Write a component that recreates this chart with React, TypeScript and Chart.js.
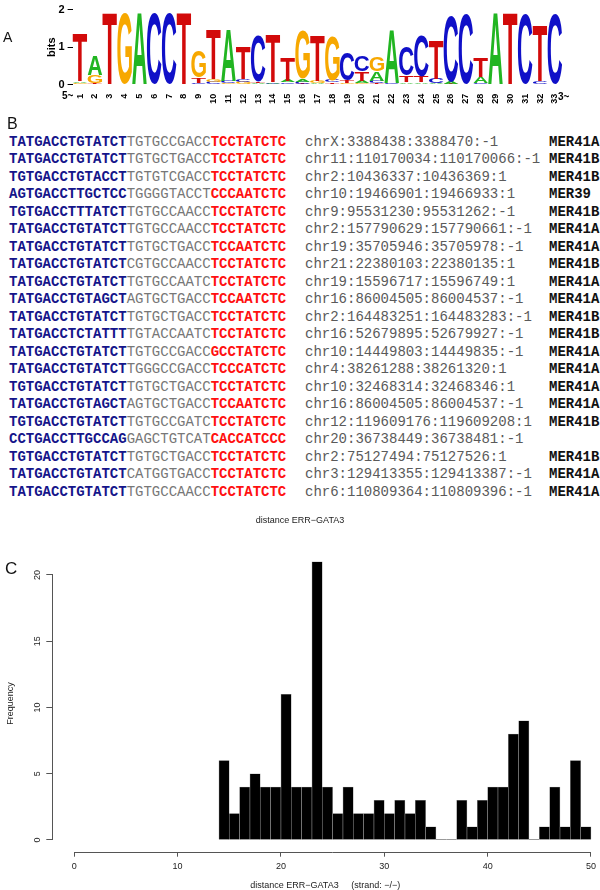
import React, { useEffect, useRef } from 'react';
import { Chart, registerables } from 'chart.js';
Chart.register(...registerables);

// ---------- Panel A: sequence logo data (bits per base at each position) ----------
const LOGO_POSITIONS = ['1','2','3','4','5','6','7','8','9','10','11','12','13','14','15','16','17','18','19','20','21','22','23','24','25','26','27','28','29','30','31','32','33'];
const BITS_A = [0.04,0.52,0,0,1.92,0,0,0,0.02,0.02,1.37,0.02,0.03,0.04,0.05,0.07,0.04,0.02,0.01,0.06,0.25,1.42,0.04,0.04,0.03,0.05,0,0.17,1.92,0,0,0,0];
const BITS_C = [0.02,0.02,0,0,0,1.9,1.9,0,0.03,0.05,0.05,0.08,1.22,0.03,0.04,0.05,0,0.06,0.73,0.42,0.06,0.03,0.78,1.08,0.12,1.76,1.88,0.03,0,0,1.88,0.07,1.88];
const BITS_G = [0.03,0.22,0,1.9,0,0,0,0,0.7,0.08,0.03,0.05,0.01,0,0.02,1.28,0.06,1.18,0.03,0.04,0.38,0,0.02,0.02,0.01,0,0,0.01,0,0,0,0.02,0];
const BITS_T = [1.27,0.02,1.92,0,0,0,0,1.93,0.14,1.32,0.02,0.87,0.04,1.29,0.62,0.03,1.2,0.04,0.08,0.25,0.04,0.02,0.18,0.16,1.02,0.03,0,0.52,0,1.92,0,1.5,0];
const LOGO_Y_TICKS = [0, 1, 2];
const LETTER_COLORS: Record<string, string> = { A: '#21b521', C: '#1010c8', G: '#f7a800', T: '#d20a0a' };

// ---------- Panel B: aligned sites ----------
const SEQ_LEFT = ['TATGACCTGTATCT','TATGACCTGTATCT','TGTGACCTGTACCT','AGTGACCTTGCTCC','TGTGACCTTTATCT','TATGACCTGTATCT','TATGACCTGTATCT','TATGACCTGTATCT','TATGACCTGTATCT','TATGACCTGTAGCT','TATGACCTGTATCT','TATGACCTCTATTT','TATGACCTGTATCT','TATGACCTGTATCT','TGTGACCTGTATCT','TATGACCTGTAGCT','TGTGACCTGTATCT','CCTGACCTTGCCAG','TGTGACCTGTATCT','TATGACCTGTATCT','TATGACCTGTATCT'];
const SEQ_MID = ['TGTGCCGACC','TGTGCTGACC','TGTGTCGACC','TGGGGTACCT','TGTGCCAACC','TGTGCCAACC','TGTGCTGACC','CGTGCCAACC','TGTGCCAATC','AGTGCTGACC','TGTGCTGACC','TGTACCAATC','TGTGCCGACC','TGGGCCGACC','TGTGCTGACC','AGTGCTGACC','TGTGCCGATC','GAGCTGTCAT','TGTGCTGACC','CATGGTGACC','TGTGCCAACC'];
const SEQ_RIGHT = ['TCCTATCTC','TCCTATCTC','TCCTATCTC','CCCAATCTC','TCCTATCTC','TCCTATCTC','TCCAATCTC','TCCTATCTC','TCCTATCTC','TCCAATCTC','TCCTATCTC','TCCTATCTC','GCCTATCTC','TCCCATCTC','TCCTATCTC','TCCAATCTC','TCCTATCTC','CACCATCCC','TCCTATCTC','TCCTATCTC','TCCTATCTC'];
const LOCI = ['chrX:3388438:3388470:-1','chr11:110170034:110170066:-1','chr2:10436337:10436369:1','chr10:19466901:19466933:1','chr9:95531230:95531262:-1','chr2:157790629:157790661:-1','chr19:35705946:35705978:-1','chr21:22380103:22380135:1','chr19:15596717:15596749:1','chr16:86004505:86004537:-1','chr2:164483251:164483283:-1','chr16:52679895:52679927:-1','chr10:14449803:14449835:-1','chr4:38261288:38261320:1','chr10:32468314:32468346:1','chr16:86004505:86004537:-1','chr12:119609176:119609208:1','chr20:36738449:36738481:-1','chr2:75127494:75127526:1','chr3:129413355:129413387:-1','chr6:110809364:110809396:-1'];
const FAMILIES = ['MER41A','MER41B','MER41B','MER39','MER41B','MER41A','MER41A','MER41B','MER41A','MER41A','MER41B','MER41B','MER41A','MER41A','MER41A','MER41A','MER41B','','MER41B','MER41A','MER41A'];

// ---------- Panel C: histogram ----------
const BIN_STARTS = [14,15,16,17,18,19,20,21,22,23,24,25,26,27,28,29,30,31,32,33,34,35,36,37,38,39,40,41,42,43,44,45,46,47,48,49];
const FREQ = [6,2,4,5,4,4,11,4,4,21,4,2,4,2,2,3,2,3,2,3,1,0,0,3,1,3,4,4,8,9,0,1,4,1,6,1];
const X_TICKS = [0, 10, 20, 30, 40, 50];
const Y_TICKS = [0, 5, 10, 15, 20];

const R_FONT = '"Liberation Sans", Arial, sans-serif';
const MONO = '"Liberation Mono", "Courier New", monospace';

const logoLetterPlugin = {
  id: 'logoLetters',
  afterDatasetsDraw(chart: any) {
    const ctx = chart.ctx;
    ctx.save();
    ctx.font = 'bold 100px "Liberation Sans", Arial, sans-serif';
    ctx.textAlign = 'left';
    ctx.textBaseline = 'alphabetic';
    chart.data.datasets.forEach((ds: any, di: number) => {
      const meta = chart.getDatasetMeta(di);
      meta.data.forEach((el: any, i: number) => {
        const letter = ds.letters[i];
        const p = el.getProps(['x', 'y', 'base', 'width'], true);
        const top = Math.min(p.y, p.base);
        const h = Math.abs(p.base - p.y);
        if (h < 0.4) return;
        const m = ctx.measureText(letter);
        const gw = m.actualBoundingBoxLeft + m.actualBoundingBoxRight;
        const gh = m.actualBoundingBoxAscent + m.actualBoundingBoxDescent;
        ctx.save();
        ctx.translate(p.x - p.width / 2, top);
        ctx.scale(p.width / gw, h / gh);
        ctx.fillStyle = LETTER_COLORS[letter];
        ctx.fillText(letter, m.actualBoundingBoxLeft, m.actualBoundingBoxAscent);
        ctx.restore();
      });
    });
    ctx.restore();
  },
};

const rAxesPlugin = {
  id: 'rAxes',
  afterDraw(chart: any) {
    const { ctx, chartArea } = chart;
    const xs = chart.scales.x;
    const ys = chart.scales.y;
    ctx.save();
    ctx.strokeStyle = '#555';
    ctx.lineWidth = 1;
    ctx.beginPath();
    const yb = Math.round(chartArea.bottom) + 0.5;
    ctx.moveTo(xs.getPixelForValue(X_TICKS[0]), yb);
    ctx.lineTo(xs.getPixelForValue(X_TICKS[X_TICKS.length - 1]), yb);
    const xl = Math.round(chartArea.left) - 0.5;
    ctx.moveTo(xl, ys.getPixelForValue(Y_TICKS[0]));
    ctx.lineTo(xl, ys.getPixelForValue(Y_TICKS[Y_TICKS.length - 1]));
    ctx.stroke();
    // empty bins drawn as flat outline at zero (as R's hist does)
    ctx.strokeStyle = '#9a9a9a';
    ctx.beginPath();
    const y0 = Math.round(ys.getPixelForValue(0)) - 0.5;
    BIN_STARTS.forEach((b, i) => {
      if (FREQ[i] === 0) {
        ctx.moveTo(xs.getPixelForValue(b), y0);
        ctx.lineTo(xs.getPixelForValue(b + 1), y0);
      }
    });
    ctx.stroke();
    ctx.restore();
  },
};

function buildLogoLayers() {
  const layers: { values: number[]; letters: string[] }[] = [0, 1, 2, 3].map(() => ({ values: [], letters: [] }));
  LOGO_POSITIONS.forEach((_, i) => {
    const col = [
      { l: 'A', v: BITS_A[i] },
      { l: 'C', v: BITS_C[i] },
      { l: 'G', v: BITS_G[i] },
      { l: 'T', v: BITS_T[i] },
    ].sort((a, b) => a.v - b.v);
    col.forEach((c, k) => {
      layers[k].values.push(c.v);
      layers[k].letters.push(c.l);
    });
  });
  return layers;
}

export default function App() {
  const logoRef = useRef<HTMLCanvasElement>(null);
  const histRef = useRef<HTMLCanvasElement>(null);

  useEffect(() => {
    const layers = buildLogoLayers();
    const logo = new Chart(logoRef.current as HTMLCanvasElement, {
      type: 'bar',
      data: {
        labels: LOGO_POSITIONS,
        datasets: layers.map((l) => ({
          data: l.values,
          letters: l.letters,
          backgroundColor: 'rgba(0,0,0,0)',
          borderWidth: 0,
          barPercentage: 1,
          categoryPercentage: 0.98,
        })) as any,
      },
      options: {
        animation: false,
        responsive: false,
        maintainAspectRatio: false,
        layout: { padding: { top: 3.3, right: 37.7, left: 0, bottom: 0 } },
        plugins: { legend: { display: false }, tooltip: { enabled: false }, title: { display: false } },
        scales: {
          x: {
            stacked: true,
            grid: { display: false },
            border: { display: false },
            ticks: {
              minRotation: 90, maxRotation: 90, autoSkip: false, padding: 1,
              color: '#000', font: { family: R_FONT, size: 9, weight: 'bold' },
            },
            afterFit: (s: any) => { s.height = 25.3; },
          },
          y: {
            stacked: true,
            min: 0,
            max: 2,
            afterBuildTicks: (s: any) => { s.ticks = LOGO_Y_TICKS.map((v) => ({ value: v })); },
            grid: { drawOnChartArea: false, tickLength: 5, color: '#000' },
            border: { display: false },
            ticks: { color: '#000', padding: 3, font: { family: R_FONT, size: 11, weight: 'bold' } },
            title: { display: true, text: 'bits', color: '#000', font: { family: R_FONT, size: 11, weight: 'bold', lineHeight: 1 }, padding: { top: 46, bottom: 0 } },
            afterFit: (s: any) => { s.width = 72.6; },
          },
        },
      } as any,
      plugins: [logoLetterPlugin],
    });

    const hist = new Chart(histRef.current as HTMLCanvasElement, {
      type: 'bar',
      data: {
        datasets: [
          {
            data: BIN_STARTS.map((b, i) => ({ x: b + 0.5, y: FREQ[i] })),
            backgroundColor: '#000',
            borderColor: '#8f8f8f',
            borderWidth: 0.6,
            barPercentage: 1,
            categoryPercentage: 1,
          },
        ] as any,
      },
      options: {
        animation: false,
        responsive: false,
        maintainAspectRatio: false,
        layout: { padding: { top: 0, right: 0, left: 0, bottom: 0 } },
        plugins: {
          legend: { display: false },
          tooltip: { enabled: false },
          title: {
            display: true,
            text: 'distance ERR\u2212GATA3',
            color: '#222',
            font: { family: R_FONT, size: 9, weight: 'normal', lineHeight: 1 },
            padding: { top: 16.5, bottom: 29.6 },
          },
        },
        scales: {
          x: {
            type: 'linear',
            min: -2.025,
            max: 50.6,
            offset: false,
            afterBuildTicks: (s: any) => { s.ticks = X_TICKS.map((v) => ({ value: v })); },
            afterFit: (s: any) => { s.height = 38.3; },
            grid: { display: true, drawOnChartArea: false, drawTicks: true, tickLength: 5, color: '#555', offset: false },
            border: { display: false },
            ticks: { padding: 4, maxRotation: 0, autoSkip: false, color: '#222', font: { family: R_FONT, size: 9, lineHeight: 1.2 } },
            title: {
              display: true,
              text: 'distance ERR\u2212GATA3     (strand: \u2212/\u2212)',
              color: '#222',
              font: { family: R_FONT, size: 9, lineHeight: 1 },
              padding: { top: 0, bottom: 0 },
            },
          },
          y: {
            type: 'linear',
            min: -0.883,
            max: 21.5,
            afterBuildTicks: (s: any) => { s.ticks = Y_TICKS.map((v) => ({ value: v })); },
            afterFit: (s: any) => { s.width = 53.3; },
            grid: { display: true, drawOnChartArea: false, drawTicks: true, tickLength: 7, color: '#555' },
            border: { display: false },
            ticks: { minRotation: 90, maxRotation: 90, crossAlign: 'center', padding: 4, color: '#222', font: { family: R_FONT, size: 9 } },
            title: {
              display: true,
              text: 'Frequency',
              color: '#222',
              font: { family: R_FONT, size: 9, lineHeight: 1 },
              padding: { top: 6, bottom: 0 },
            },
          },
        },
      } as any,
      plugins: [rAxesPlugin],
    });

    return () => {
      logo.destroy();
      hist.destroy();
    };
  }, []);

  const B_TOP = 133.8;
  const ROW_H = 17.5;

  return (
    <div style={{ position: 'absolute', left: 0, top: 0, width: 600, height: 890, overflow: 'hidden', background: '#fff' }}>
      <canvas ref={logoRef} width={600} height={110} style={{ position: 'absolute', left: 0, top: 0, width: 600, height: 110 }} />
      <div style={{ position: 'absolute', left: 3, top: 29.9, fontFamily: R_FONT, fontSize: 14, lineHeight: '14px', color: '#111' }}>A</div>
      <div style={{ position: 'absolute', left: 62, top: 91, fontFamily: R_FONT, fontSize: 10, lineHeight: '10px', fontWeight: 'bold', color: '#000' }}>5~</div>
      <div style={{ position: 'absolute', left: 558, top: 92, fontFamily: R_FONT, fontSize: 10, lineHeight: '10px', fontWeight: 'bold', color: '#000' }}>3~</div>

      <div style={{ position: 'absolute', left: 7, top: 115.9, fontFamily: R_FONT, fontSize: 16, lineHeight: '16px', color: '#111' }}>B</div>
      {SEQ_LEFT.map((l, i) => (
        <div key={i} style={{ position: 'absolute', left: 0, top: B_TOP + i * ROW_H, width: 600, height: ROW_H, lineHeight: ROW_H + 'px', fontFamily: MONO, fontSize: 14, whiteSpace: 'pre' }}>
          <span style={{ position: 'absolute', left: 9 }}>
            <b style={{ color: '#15158a' }}>{l}</b>
            <span style={{ color: '#777777' }}>{SEQ_MID[i]}</span>
            <b style={{ color: '#ff1010' }}>{SEQ_RIGHT[i]}</b>
          </span>
          <span style={{ position: 'absolute', left: 305, color: '#5a5a5a' }}>{LOCI[i]}</span>
          <b style={{ position: 'absolute', left: 549, color: '#111' }}>{FAMILIES[i]}</b>
        </div>
      ))}

      <div style={{ position: 'absolute', left: 5, top: 559.8, fontFamily: R_FONT, fontSize: 17, lineHeight: '17px', color: '#111' }}>C</div>
      <canvas ref={histRef} width={600} height={390} style={{ position: 'absolute', left: 0, top: 500, width: 600, height: 390 }} />
    </div>
  );
}
